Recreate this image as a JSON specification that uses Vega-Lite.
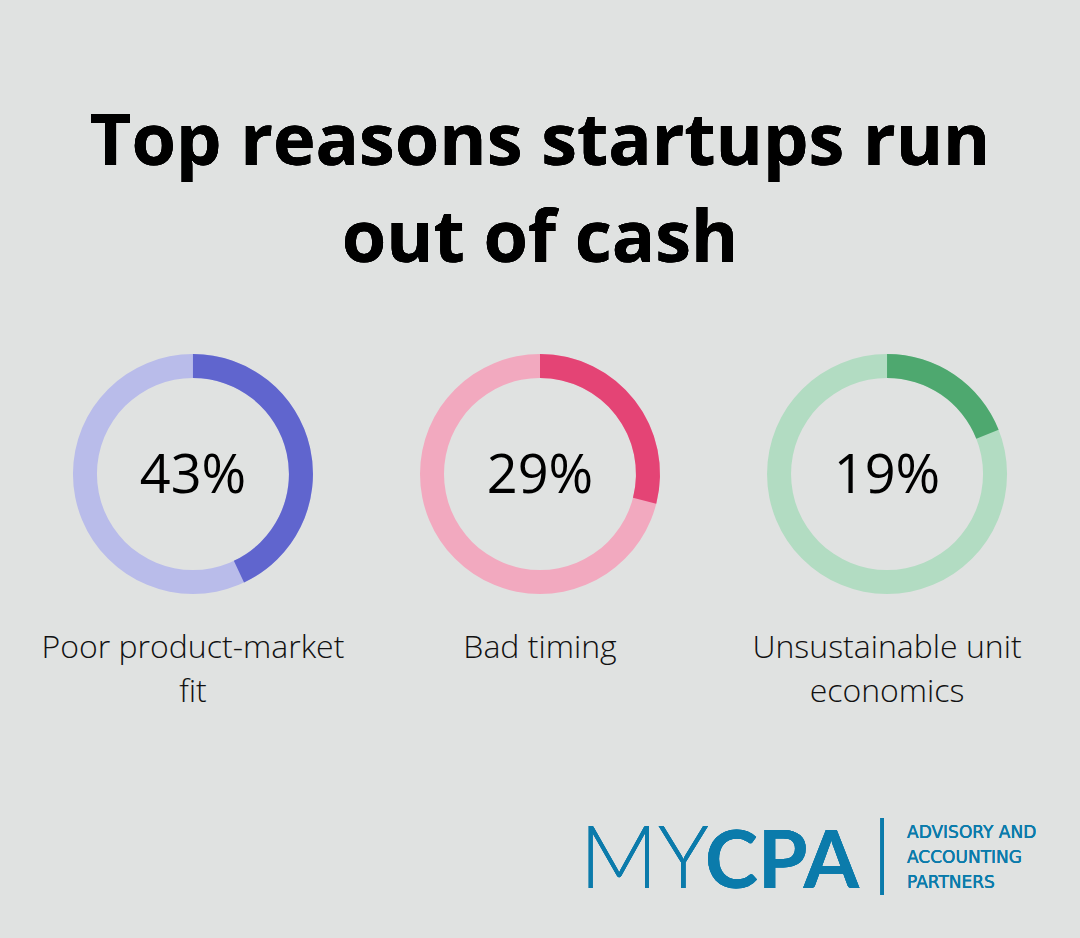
{
  "$schema": "https://vega.github.io/schema/vega-lite/v6.json",
  "width": 1080,
  "height": 928,
  "autosize": {"type": "none"},
  "padding": {"left": 0, "right": 0, "top": 10, "bottom": 0},
  "background": "#e0e2e1",
  "config": {"view": {"stroke": null}},
  "data": {"values": [
    {"reason": "Poor product-market fit", "pct": 0.43, "label": "Poor product-market\nfit"},
    {"reason": "Bad timing", "pct": 0.29, "label": "Bad timing"},
    {"reason": "Unsustainable unit economics", "pct": 0.19, "label": "Unsustainable unit\neconomics"}
  ]},
  "encoding": {
    "x": {"field": "reason", "type": "nominal", "axis": null,
      "scale": {"type": "point", "domain": ["Poor product-market fit", "Bad timing", "Unsustainable unit economics"], "padding": 0.556}}
  },
  "resolve": {"scale": {"color": "independent"}},
  "layer": [
    {
      "mark": {"type": "arc", "radius": 120, "radius2": 96},
      "encoding": {
        "color": {"field": "reason", "type": "nominal", "legend": null,
          "scale": {"domain": ["Poor product-market fit", "Bad timing", "Unsustainable unit economics"], "range": ["#b9bcea", "#f2a9bf", "#b2dcc2"]}}
      }
    },
    {
      "transform": [{"stack": "pct", "groupby": ["reason"], "as": ["p0", "p1"]}],
      "mark": {"type": "arc", "radius": 120, "radius2": 96},
      "encoding": {
        "theta": {"field": "p0", "type": "quantitative", "scale": {"domain": [0, 1]}},
        "theta2": {"field": "p1"},
        "color": {"field": "reason", "type": "nominal", "legend": null,
          "scale": {"domain": ["Poor product-market fit", "Bad timing", "Unsustainable unit economics"], "range": ["#6065ce", "#e44475", "#4ea86f"]}}
      }
    },
    {
      "mark": {"type": "text", "font": "Open Sans", "fontSize": 54, "fontWeight": 500, "color": "#000000", "baseline": "alphabetic", "dy": 19},
      "encoding": {"text": {"field": "pct", "type": "quantitative", "format": ".0%"}}
    },
    {
      "mark": {"type": "text", "font": "Open Sans", "fontSize": 32, "fontWeight": 300, "color": "#111111", "baseline": "alphabetic", "dy": 184, "lineBreak": "\n", "lineHeight": 44},
      "encoding": {"text": {"field": "label", "type": "nominal"}}
    },
    {
      "mark": {"type": "text", "font": "Open Sans", "fontSize": 72, "fontWeight": 700, "color": "#000000", "baseline": "alphabetic", "dy": -309, "lineBreak": "\n", "lineHeight": 97},
      "encoding": {"x": {"datum": "Bad timing", "type": "nominal"}, "text": {"value": "Top reasons startups run\nout of cash"}}
    },
    {
      "mark": {"type": "text", "font": "Lato", "fontSize": 86, "fontWeight": 300, "color": "#0b7bab", "align": "right", "baseline": "alphabetic", "dx": -178, "dy": 414},
      "encoding": {"x": {"datum": "Unsustainable unit economics", "type": "nominal"}, "text": {"value": "MY"}}
    },
    {
      "mark": {"type": "text", "font": "Lato", "fontSize": 80, "fontWeight": 700, "color": "#0b7bab", "align": "left", "baseline": "alphabetic", "dx": -182, "dy": 414},
      "encoding": {"x": {"datum": "Unsustainable unit economics", "type": "nominal"}, "text": {"value": "CPA"}}
    },
    {
      "mark": {"type": "text", "font": "DejaVu Sans", "fontSize": 76, "fontWeight": 200, "color": "#0b7bab", "align": "center", "baseline": "alphabetic", "dx": -5, "dy": 402},
      "encoding": {"x": {"datum": "Unsustainable unit economics", "type": "nominal"}, "text": {"value": "|"}}
    },
    {
      "mark": {"type": "text", "font": "DejaVu Sans", "fontSize": 17, "fontWeight": 400, "color": "#0b7bab", "align": "left", "baseline": "alphabetic", "dx": 20, "dy": 364, "lineBreak": "\n", "lineHeight": 25},
      "encoding": {"x": {"datum": "Unsustainable unit economics", "type": "nominal"}, "text": {"value": "ADVISORY AND\nACCOUNTING\nPARTNERS"}}
    }
  ]
}
